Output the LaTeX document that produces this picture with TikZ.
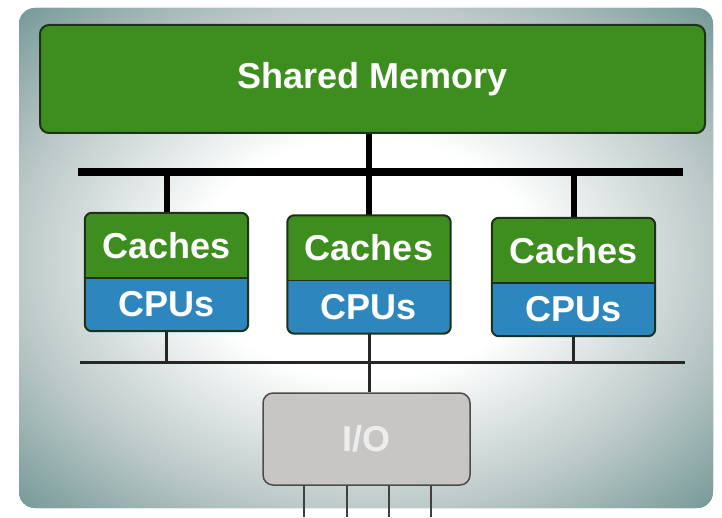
\documentclass[tikz,border=0pt]{standalone}
\usepackage{fontspec}
\setmainfont{Liberation Sans}
\usepackage{tikz}
\usetikzlibrary{shapes.geometric}
\definecolor{panelteal}{HTML}{5C8886}
\definecolor{glowmid}{HTML}{BDCAC9}
\definecolor{memgreen}{HTML}{3D8E1F}
\definecolor{cpublue}{HTML}{2E86BF}
\definecolor{darkedge}{HTML}{1E3219}
\definecolor{iogrey}{HTML}{C8C5C5}
\pgfdeclareradialshading{panelglow}{\pgfpoint{0bp}{0bp}}{color(0bp)=(white); color(12bp)=(white); color(25bp)=(glowmid); color(39bp)=(panelteal); color(50bp)=(panelteal)}
\newcommand{\boxfont}{\fontsize{36}{40}\selectfont\bfseries}
\tikzstyle{memory} = [rectangle, rounded corners=9pt, minimum width=665pt, minimum height=108pt, inner sep=0pt, draw=darkedge, line width=2pt, fill=memgreen, text=white, font=\boxfont]
\tikzstyle{cachebox} = [rectangle, minimum width=163pt, minimum height=65pt, inner sep=0pt, text=white, font=\boxfont]
\tikzstyle{cpubox} = [rectangle, minimum width=163pt, minimum height=53pt, inner sep=0pt, text=white, font=\boxfont]
\tikzstyle{iobox} = [rectangle, rounded corners=10pt, minimum width=207pt, minimum height=92pt, inner sep=0pt, draw=black!70, line width=1.5pt, fill=iogrey, text=white!93!black, font=\boxfont]
\tikzstyle{mainbus} = [line width=8pt, black]
\tikzstyle{thickline} = [line width=6pt, black]
\tikzstyle{thinbus} = [line width=3pt, black!85]
\tikzstyle{ioline} = [line width=2pt, black!75]

\begin{document}
\begin{tikzpicture}[x=1pt, y=1pt, node distance=59pt]
	\useasboundingbox (0,0) rectangle (722,517);
	
	% panel with light glow in the middle
	\fill[panelteal, rounded corners=16pt] (19,9) rectangle (713,509);
	\shade[shading=panelglow, rounded corners=16pt] (19,9) rectangle (713,509);
	
	\node (mem) [memory] at (372.5,438) {Shared Memory};
	
	\node (cache1) [cachebox] at (166.5,271.5) {};
	\node (cpu1) [cpubox, below of=cache1] {};
	\node (cache2) [cachebox] at (369,269) {};
	\node (cpu2) [cpubox, below of=cache2] {};
	\node (cache3) [cachebox] at (573.5,266.5) {};
	\node (cpu3) [cpubox, below of=cache3] {};
	
	\node (io) [iobox] at (366.5,78) {I/O};
	
	\coordinate (topL) at (78,345);
	\coordinate (topR) at (683,345);
	\coordinate (topM) at (369,345);
	\coordinate (lowL) at (80,155);
	\coordinate (lowR) at (685,155);
	\coordinate (lowM) at (369,155);
	
	% busses
	\draw [thickline] (mem.south -| topM) -- (topM);
	\draw [mainbus] (topL) -- (topR);
	\draw [thinbus] (lowL) -- (lowR);
	\draw [thinbus] (lowM) -- (lowM |- io.north);
	\foreach \k in {1,2,3} {
		\draw [thickline] (topM -| cache\k.north) -- (cache\k.north);
		\draw [thinbus] (cpu\k.south) -- (lowM -| cpu\k.south);
	}
	
	% cache / cpu blocks
	\foreach \k in {1,2,3} {
		\begin{scope}
			\clip[rounded corners=7pt] (cache\k.north west) rectangle (cpu\k.south east);
			\fill[memgreen] (cache\k.north west) rectangle (cache\k.south east);
			\fill[cpublue] (cpu\k.north west) rectangle (cpu\k.south east);
		\end{scope}
		\draw [darkedge, line width=1.5pt] (cache\k.south west) -- (cache\k.south east);
		\draw [darkedge, line width=2pt, rounded corners=7pt] (cache\k.north west) rectangle (cpu\k.south east);
		\node at (cache\k) [cachebox] {Caches};
		\node at (cpu\k) [cpubox] {CPUs};
	}
	
	% lines out of the I/O block
	\foreach \x in {304,347,389,431} {
		\coordinate (out\x) at (\x,0);
		\draw [ioline] (io.south -| out\x) -- (out\x);
	}
	
\end{tikzpicture}
\end{document}
